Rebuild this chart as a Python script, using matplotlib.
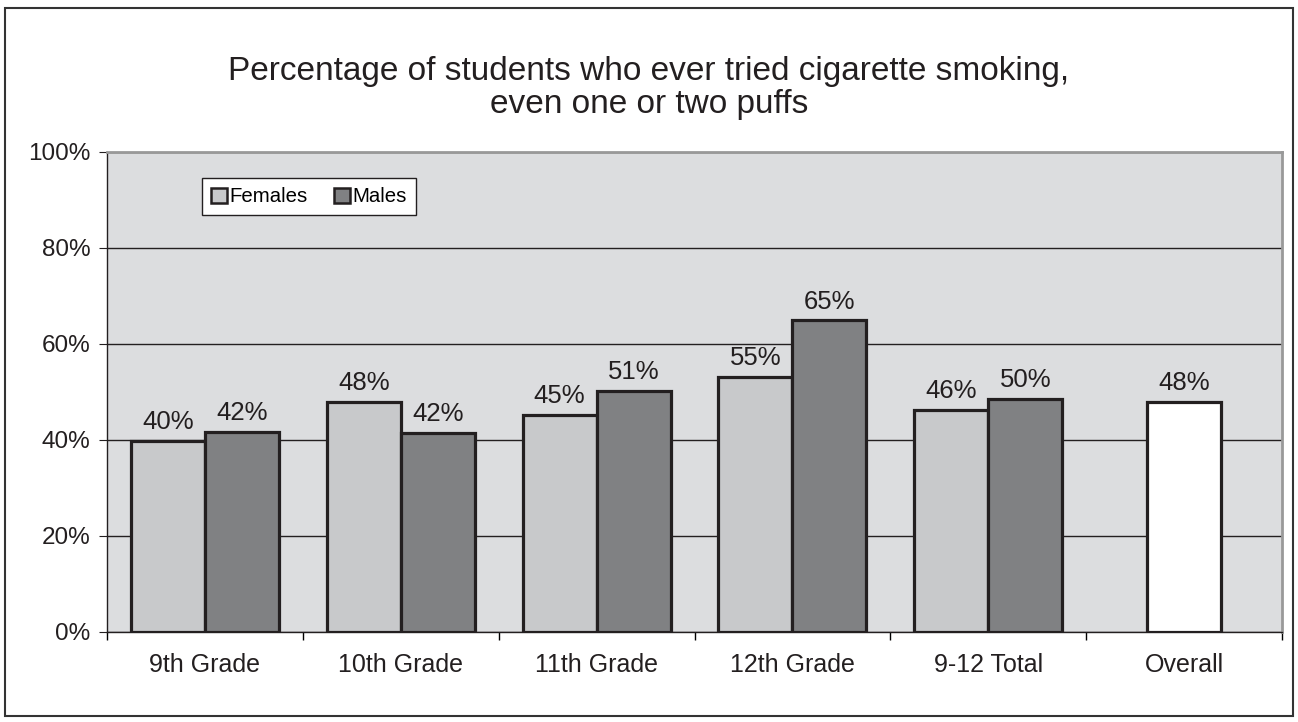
import numpy as np
import matplotlib.pyplot as plt
from matplotlib.patches import Rectangle
from matplotlib.ticker import PercentFormatter

plt.rcParams['font.family'] = ['Liberation Sans', 'DejaVu Sans']

# Data
groups = ['9th Grade', '10th Grade', '11th Grade', '12th Grade', '9-12 Total']
females = [39.8, 48.0, 45.2, 53.2, 46.3]
males = [41.7, 41.5, 50.3, 64.9, 48.5]
female_labels = ['40%', '48%', '45%', '55%', '46%']
male_labels = ['42%', '42%', '51%', '65%', '50%']
overall = 48.0
overall_label = '48%'
categories = groups + ['Overall']

fig = plt.figure(figsize=(12.98, 7.22), dpi=100)
ax = fig.add_axes([107/1298, 1 - 632/722, (1282-107)/1298, (632-152)/722])

# outer chart border
fig.patches.append(Rectangle((5/1298, 6/722), 1288/1298, 708/722, transform=fig.transFigure,
                             fill=False, edgecolor='#333333', linewidth=1.5))

ax.set_facecolor('#dcdddf')
w = 0.378
x = np.arange(len(groups))
edge = '#231f20'
ax.bar(x + 0.5 - w/2, females, w, color='#c8c9cb', edgecolor=edge, linewidth=2.3, label='Females', zorder=3)
ax.bar(x + 0.5 + w/2, males, w, color='#808183', edgecolor=edge, linewidth=2.3, label='Males', zorder=3)
ax.bar([len(groups) + 0.5], [overall], w, color='white', edgecolor=edge, linewidth=2.3, zorder=3)

lab_kw = dict(ha='center', va='bottom', fontsize=18.5, color='#231f20')
for xi, v, s in zip(x + 0.5 - w/2, females, female_labels):
    ax.text(xi, v + 1.4, s, **lab_kw)
for xi, v, s in zip(x + 0.5 + w/2, males, male_labels):
    ax.text(xi, v + 1.4, s, **lab_kw)
ax.text(len(groups) + 0.5, overall + 1.4, overall_label, **lab_kw)

ax.set_xlim(0, len(categories))
ax.set_ylim(0, 100)
ax.set_yticks(np.arange(0, 101, 20))
ax.yaxis.set_major_formatter(PercentFormatter(decimals=0))
ax.set_xticks(np.arange(len(categories) + 1))
ax.set_xticklabels([])
ax.set_xticks(np.arange(len(categories)) + 0.5, minor=True)
ax.set_xticklabels(categories, minor=True)
ax.tick_params(axis='x', which='minor', length=0, labelsize=18, pad=15, colors='#231f20')
ax.tick_params(axis='x', which='major', length=6, direction='out', width=1)
ax.tick_params(axis='y', length=6, direction='out', labelsize=17.5, pad=6, colors='#231f20')
ax.grid(axis='y', color='#231f20', linewidth=1, zorder=1)

for side in ['top', 'right']:
    ax.spines[side].set_color('#999999')
    ax.spines[side].set_linewidth(2)
for side in ['left', 'bottom']:
    ax.spines[side].set_color('#231f20')
    ax.spines[side].set_linewidth(1)

leg = ax.legend(loc='upper left', bbox_to_anchor=(95/1175, 1 - 26/480), ncol=2, fontsize=14.7,
                frameon=True, fancybox=False, edgecolor='#231f20', framealpha=1,
                handlelength=0.75, handleheight=0.75, handletextpad=0.15, columnspacing=1.3,
                borderpad=0.45, borderaxespad=0)
leg.get_frame().set_linewidth(1)
for h in leg.legend_handles:
    h.set_linewidth(1.8)

fig.text(0.5, 1 - 88/722, 'Percentage of students who ever tried cigarette smoking,\neven one or two puffs',
         ha='center', va='center', fontsize=24, color='#231f20', linespacing=1.12)

fig.savefig('out.png', dpi=100)
